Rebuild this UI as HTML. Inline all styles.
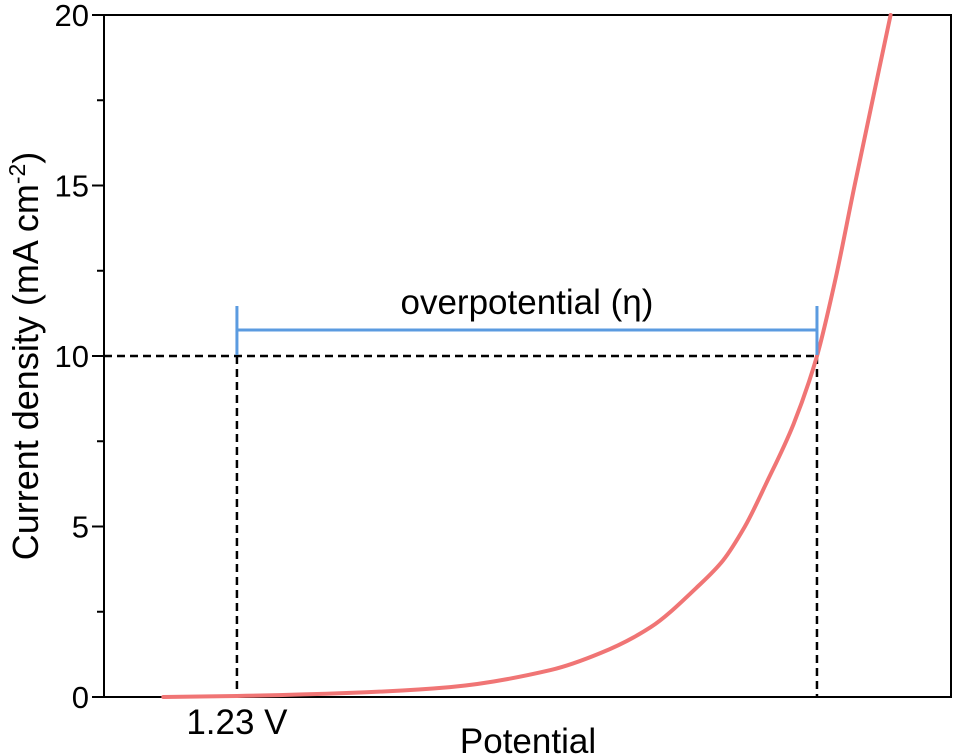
<!DOCTYPE html>
<html><head><meta charset="utf-8"><style>
html,body{margin:0;padding:0;background:#fff;}
svg{display:block;font-family:"Liberation Sans",Arial,sans-serif;}
</style></head><body>
<svg id="chart" width="955" height="754" viewBox="0 0 955 754">
<g id="plot"></g>
</svg>
<script>
const potentialV = [1.183, 1.23, 1.302, 1.366, 1.430, 1.462, 1.494, 1.523, 1.540, 1.554, 1.568, 1.585, 1.600, 1.612, 1.624, 1.647];
const currentDensity = [0.0, 0.03, 0.12, 0.29, 0.79, 1.29, 2.05, 3.2, 4.0, 5.0, 6.3, 8.0, 10, 12.3, 15, 20];
const yTickLabels = [0, 5, 10, 15, 20];
const yMinorTicks = [2.5, 7.5, 12.5, 17.5];
const thermoV = [1.23];
const targetJ = [10];
const etaV = [1.600];

const L=104,R=951,T=15,B=697;
const xMin=1.1452,xMax=1.6855,yMin=0,yMax=20;
function xs(v){return L+(v-xMin)/(xMax-xMin)*(R-L);}
function ys(v){return B-(v-yMin)/(yMax-yMin)*(B-T);}
const NS='http://www.w3.org/2000/svg';
const g=document.getElementById('plot');
function mk(tag,attrs,parent){const e=document.createElementNS(NS,tag);for(const k in attrs)e.setAttribute(k,attrs[k]);(parent||g).appendChild(e);return e;}

const frame=mk('rect',{x:L,y:T,width:R-L,height:B-T,fill:'none',stroke:'#000','stroke-width':2});



yTickLabels.forEach(v=>{
  const t=mk('line',{x1:92,x2:L,y1:ys(v),y2:ys(v),stroke:'#000','stroke-width':2});
  
  
  const l=mk('text',{x:89,y:ys(v)+11,'text-anchor':'end','font-size':31,fill:'#000'});
  l.textContent=v;
  
  
});
yMinorTicks.forEach(v=>{
  const t=mk('line',{x1:97,x2:L,y1:ys(v),y2:ys(v),stroke:'#000','stroke-width':2});
  
  
});

const x123=xs(thermoV[0]), xeta=xs(etaV[0]), y10=ys(targetJ[0]);
const d1=mk('line',{x1:L,x2:xeta,y1:y10,y2:y10,stroke:'#000','stroke-width':2.5,'stroke-dasharray':'8,5'});


const d2=mk('line',{x1:x123,x2:x123,y1:y10,y2:B,stroke:'#000','stroke-width':2.5,'stroke-dasharray':'8,5'});


const d3=mk('line',{x1:xeta,x2:xeta,y1:y10,y2:B,stroke:'#000','stroke-width':2.5,'stroke-dasharray':'8,5'});



const px=potentialV.map(xs), py=currentDensity.map(ys);
const n=px.length, dl=[], m=[];
for(let i=0;i<n-1;i++) dl.push((py[i+1]-py[i])/(px[i+1]-px[i]));
m[0]=dl[0]; m[n-1]=dl[n-2];
for(let i=1;i<n-1;i++){
  if(dl[i-1]*dl[i]<=0){m[i]=0;}
  else{const h0=px[i]-px[i-1],h1=px[i+1]-px[i];const w1=2*h1+h0,w2=h1+2*h0;m[i]=(w1+w2)/(w1/dl[i-1]+w2/dl[i]);}
}
let dstr='M'+px[0].toFixed(1)+','+py[0].toFixed(1);
for(let i=0;i<n-1;i++){
  const h=(px[i+1]-px[i])/3;
  dstr+='C'+(px[i]+h).toFixed(1)+','+(py[i]+m[i]*h).toFixed(1)+' '+(px[i+1]-h).toFixed(1)+','+(py[i+1]-m[i+1]*h).toFixed(1)+' '+px[i+1].toFixed(1)+','+py[i+1].toFixed(1);
}
const curve=mk('path',{d:dstr,fill:'none',stroke:'#f07575','stroke-width':4,'stroke-linejoin':'round','stroke-linecap':'round'});



const by=330;
const bh=mk('line',{x1:x123,x2:xeta,y1:by,y2:by,stroke:'#5b9be0','stroke-width':3});


[x123,xeta].forEach(x=>{
  const c=mk('line',{x1:x,x2:x,y1:306,y2:355,stroke:'#5b9be0','stroke-width':3});
  
  
});
const ot=mk('text',{x:(x123+xeta)/2,y:314,'text-anchor':'middle','font-size':35,fill:'#000'});
ot.textContent='overpotential (η)';



const vt=mk('text',{x:x123,y:734,'text-anchor':'middle','font-size':35,fill:'#000'});
vt.textContent='1.23 V';



const xt=mk('text',{x:528,y:753,'text-anchor':'middle','font-size':35,fill:'#000'});
xt.textContent='Potential';



const yt=mk('text',{x:0,y:0,'text-anchor':'middle','font-size':36,fill:'#000',transform:'translate(38,356) rotate(-90)'});


yt.appendChild(document.createTextNode('Current density (mA cm'));
const sup=document.createElementNS(NS,'tspan');sup.setAttribute('dy',-13);sup.setAttribute('font-size',23);sup.textContent='-2';yt.appendChild(sup);
const cl=document.createElementNS(NS,'tspan');cl.setAttribute('dy',13);cl.textContent=')';yt.appendChild(cl);
</script>
</body></html>
